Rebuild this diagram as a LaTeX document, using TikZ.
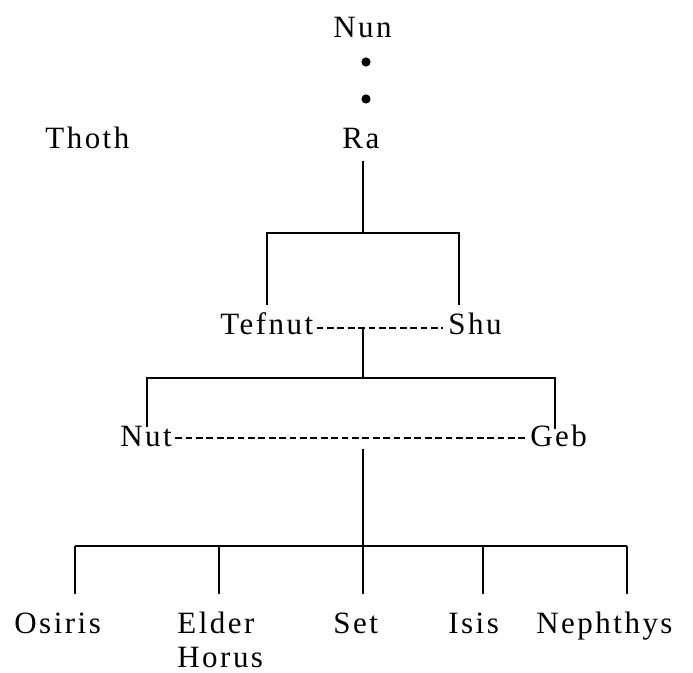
\documentclass[tikz,border=0pt]{standalone}
\usepackage{fontspec}
\setmainfont{Liberation Serif}[LetterSpace=8]
\usetikzlibrary{calc}
\begin{document}
\begin{tikzpicture}[x=0.5pt,y=-0.5pt,
  lbl/.style={inner sep=0pt, anchor=base west, font=\fontsize{15.5}{17}\selectfont},
  tree/.style={line width=1pt},
  kin/.style={line width=0.75pt, dash pattern=on 3.4pt off 1.8pt},
  dot/.style={circle, fill=black, inner sep=0pt, minimum size=4.6pt}]
\useasboundingbox (0,0) rectangle (693,673);

% names
\node[lbl] (nun)    at (333,38)  {Nun};
\node[dot] (dotA)   at (366,62)  {};
\node[dot] (dotB)   at (366,99)  {};
\node[lbl] (thoth)  at (45,149)  {Thoth};
\node[lbl] (ra)     at (342,149) {Ra};
\node[lbl] (tefnut) at (220,335) {Tefnut};
\node[lbl] (shu)    at (448,335) {Shu};
\node[lbl] (nut)    at (120,447) {Nut};
\node[lbl] (geb)    at (530,447) {Geb};
\node[lbl] (osiris) at (14,634)  {Osiris};
\node[lbl, anchor=north west, align=left] (horus) at (177,612) {Elder\\Horus};
\node[lbl] (set)    at (333,634) {Set};
\node[lbl] (isis)   at (448,634) {Isis};
\node[lbl] (neph)   at (536,634) {Nephthys};

% junction points of the tree
\coordinate (raJ) at (363,233);
\coordinate (tsL) at (267,233);
\coordinate (tsR) at (459,233);
\coordinate (tsJ) at (363,378);
\coordinate (ngL) at (147,378);
\coordinate (ngR) at (555,378);
\coordinate (ngJ) at (363,546);
\coordinate (cA)  at (75,546);
\coordinate (cB)  at (219,546);
\coordinate (cC)  at (363,546);
\coordinate (cD)  at (483,546);
\coordinate (cE)  at (627,546);

% Ra -> Tefnut, Shu
\draw[tree] ($(ra.base -| raJ)+(0,12)$) -- (raJ);
\draw[tree] ($(tefnut.north -| tsL)+(0,-8)$) -- (tsL) -- (tsR) -- ($(shu.north -| tsR)+(0,-8)$);

% Tefnut -- Shu
\draw[kin] ($(tefnut.base east)+(3,-7)$) -- ($(shu.base west)+(-5,-7)$);
\draw[tree] ($(tefnut.base east -| tsJ)+(0,-7)$) -- (tsJ);
\draw[tree] ($(nut.north -| ngL)+(0,1)$) -- (ngL) -- (ngR) -- ($(geb.north -| ngR)+(0,4)$);

% Nut -- Geb
\draw[kin] ($(nut.base east)+(3,-9)$) -- ($(geb.base west)+(-2,-9)$);
\draw[tree] ($(nut.base -| ngJ)+(0,2)$) -- (ngJ);

% children
\draw[tree] (cA) -- (cE);
\draw[tree] (cA) -- ($(osiris.base -| cA)+(0,-40)$);
\draw[tree] (cB) -- ($(horus.north -| cB)+(0,-18)$);
\draw[tree] (cC) -- ($(set.base -| cC)+(0,-40)$);
\draw[tree] (cD) -- ($(isis.base -| cD)+(0,-40)$);
\draw[tree] (cE) -- ($(neph.base -| cE)+(0,-40)$);
\end{tikzpicture}
\end{document}
